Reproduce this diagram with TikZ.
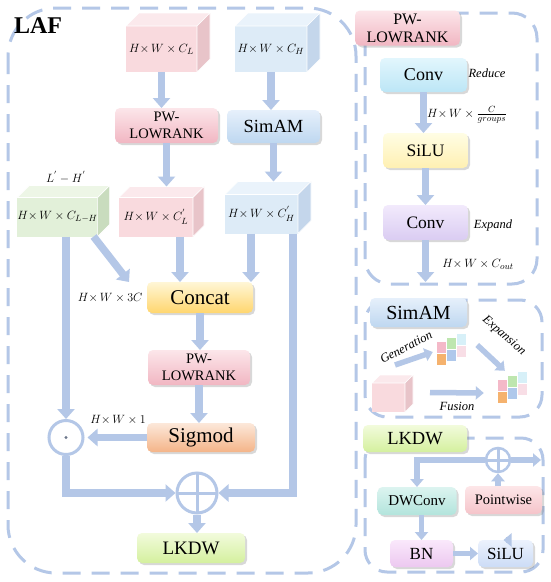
\documentclass[tikz,border=0pt]{standalone}
\usepackage{amsmath,amssymb}
\usepackage{xcolor}
\usepackage{fontspec}
\setmainfont{Liberation Serif}
\usetikzlibrary{arrows.meta,shadows,calc}

\definecolor{flowblue}{RGB}{180,199,231}
\definecolor{pinkA}{RGB}{252,230,234}
\definecolor{pinkB}{RGB}{241,182,194}
\definecolor{blueA}{RGB}{230,240,251}
\definecolor{blueB}{RGB}{190,215,240}
\definecolor{yellowA}{RGB}{255,246,214}
\definecolor{yellowB}{RGB}{255,214,110}
\definecolor{peachA}{RGB}{252,232,218}
\definecolor{peachB}{RGB}{244,180,136}
\definecolor{greenA}{RGB}{242,251,220}
\definecolor{greenB}{RGB}{212,240,158}
\definecolor{cyanA}{RGB}{226,246,253}
\definecolor{cyanB}{RGB}{188,230,246}
\definecolor{lemonA}{RGB}{255,253,228}
\definecolor{lemonB}{RGB}{255,240,178}
\definecolor{lilacA}{RGB}{242,234,252}
\definecolor{lilacB}{RGB}{218,204,242}
\definecolor{tealA}{RGB}{220,244,240}
\definecolor{tealB}{RGB}{178,228,220}
\definecolor{roseA}{RGB}{253,230,232}
\definecolor{roseB}{RGB}{245,196,202}
\definecolor{orchidA}{RGB}{250,232,251}
\definecolor{orchidB}{RGB}{236,200,240}
\definecolor{skyA}{RGB}{236,242,253}
\definecolor{skyB}{RGB}{204,220,246}
\definecolor{cpinkF}{RGB}{249,218,222}
\definecolor{cpinkT}{RGB}{251,233,236}
\definecolor{cpinkS}{RGB}{232,196,201}
\definecolor{cblueF}{RGB}{221,235,247}
\definecolor{cblueT}{RGB}{234,243,251}
\definecolor{cblueS}{RGB}{196,214,235}
\definecolor{cgreenF}{RGB}{226,240,217}
\definecolor{cgreenT}{RGB}{237,246,230}
\definecolor{cgreenS}{RGB}{201,220,190}
\definecolor{gpink}{RGB}{244,185,200}
\definecolor{ggreen}{RGB}{190,230,175}
\definecolor{gcyan}{RGB}{215,240,248}
\definecolor{gorange}{RGB}{245,178,110}
\definecolor{gblue}{RGB}{175,200,235}
\definecolor{gpinkl}{RGB}{248,222,230}

\newcommand{\cubefaces}[4]{%
    \fill[#3,draw=white,line width=0.6pt] (#1.north west) -- ([shift={(#2,-#2)}]#1.north west) -- ([shift={(#2,-#2)}]#1.north east) -- (#1.north east) -- cycle;
    \fill[#4,draw=white,line width=0.6pt] (#1.north east) -- ([shift={(#2,-#2)}]#1.north east) -- ([shift={(#2,-#2)}]#1.south east) -- (#1.south east) -- cycle;
    \coordinate (#1-back) at ([shift={(#2,-#2)}]#1.north);
}
\newcommand{\weightgrid}[1]{%
    \foreach \gx/\gy/\gc in {0/0/gpink,1/0/ggreen,2/0/gcyan,0/1/gorange,1/1/gblue,2/1/gpinkl}
        \fill[\gc] ([shift={(\gx*10-15,\gy*12-\gx*4-10)}]#1.center) rectangle ++(9,11);
}

\begin{document}
\begin{tikzpicture}[x=1pt,y=-1pt,
    flow/.style={draw=flowblue,line width=7.5pt,-{Triangle[width=17pt,length=10pt]}},
    flowthin/.style={draw=flowblue,line width=5.5pt,-{Triangle[width=13pt,length=8pt]}},
    frame/.style={draw=flowblue,line width=3pt,dash pattern=on 18pt off 11pt},
    box/.style={rounded corners=5pt,inner sep=0pt,outer sep=0pt,align=center,
        drop shadow={opacity=0.3,shadow xshift=2pt,shadow yshift=-2pt}},
    pinkbox/.style={box,top color=pinkA,bottom color=pinkB},
    bluebox/.style={box,top color=blueA,bottom color=blueB},
    yellowbox/.style={box,top color=yellowA,bottom color=yellowB},
    peachbox/.style={box,top color=peachA,bottom color=peachB},
    greenbox/.style={box,top color=greenA,bottom color=greenB},
    cube/.style={inner sep=0pt,outer sep=0pt,font=\fontsize{12.5}{14}\selectfont},
    mathlbl/.style={font=\fontsize{12.5}{14}\selectfont},
    note/.style={font=\fontsize{12.5}{14}\selectfont\itshape},
    plusnode/.style={circle,draw=flowblue,line width=3pt,fill=white,inner sep=0pt,
        path picture={\draw[flowblue,line width=3pt] (path picture bounding box.north) -- (path picture bounding box.south) (path picture bounding box.west) -- (path picture bounding box.east);}},
    dotnode/.style={circle,draw=flowblue,line width=3pt,fill=white,inner sep=0pt,
        path picture={\fill[flowblue!60!black] (path picture bounding box.center) circle (1.6pt);}}]
    \useasboundingbox (0,0) rectangle (550,582);
    \fill[white] (0,0) rectangle (550,582);

    \draw[frame,rounded corners=48] (8,8) rectangle (356,573);
    \draw[frame,rounded corners=25] (365,13) rectangle (537,284);
    \draw[frame,rounded corners=22] (365,300) rectangle (542,417);
    \draw[frame,rounded corners=22] (365,438) rectangle (543,572);

    \node[font=\fontsize{24}{26}\selectfont\bfseries] (laf) at (38,26) {LAF};

    \node[cube,fill=cpinkF,minimum width=71pt,minimum height=46pt] (cL) at (161.5,49) {$H{\times}\,W\times C_L$};
    \cubefaces{cL}{13}{cpinkT}{cpinkS}
    \node[cube,fill=cblueF,minimum width=72pt,minimum height=46pt] (cH) at (271,49) {$H{\times}\,W\times C_H$};
    \cubefaces{cH}{13}{cblueT}{cblueS}

    \node[pinkbox,minimum width=103pt,minimum height=35pt,font=\fontsize{14.5}{17}\selectfont] (pw1) at (166.5,125.5) {PW-\\LOWRANK};
    \node[bluebox,minimum width=93pt,minimum height=33pt,font=\fontsize{18.5}{20}\selectfont] (sim) at (273.5,126.5) {SimAM};

    \node[cube,fill=cgreenF,minimum width=79pt,minimum height=39pt] (cLH) at (57.5,217) {$H{\times}\,W\times C_{L-H}$};
    \cubefaces{cLH}{12}{cgreenT}{cgreenS}
    \node[cube,fill=cpinkF,minimum width=74pt,minimum height=39pt] (cL2) at (156,217) {$H{\times}\,W\times C_L^{'}$};
    \cubefaces{cL2}{11}{cpinkT}{cpinkS}
    \node[cube,fill=cblueF,minimum width=73pt,minimum height=39pt] (cH2) at (261.5,214) {$H{\times}\,W\times C_H^{'}$};
    \cubefaces{cH2}{13}{cblueT}{cblueS}
    \node[mathlbl] (lblLH) at (66,177) {$L^{'}-H^{'}$};

    \node[yellowbox,minimum width=106pt,minimum height=31pt,font=\fontsize{21}{23}\selectfont] (concat) at (200,297.5) {Concat};
    \node[mathlbl,anchor=east] (lbl3c) at ([xshift=-1pt]concat.west) {$H{\times}\,W\times 3C$};
    \node[pinkbox,minimum width=102pt,minimum height=35pt,font=\fontsize{14.5}{17}\selectfont] (pw2) at (199,367.5) {PW-\\LOWRANK};
    \node[peachbox,minimum width=108pt,minimum height=29pt,font=\fontsize{21}{23}\selectfont] (sig) at (201,437.5) {Sigmod};
    \node[mathlbl] (lbl1) at (118,420) {$H{\times}\,W\times 1$};
    \node[dotnode,minimum size=34pt] (odot) at (66,437.5) {};
    \node[plusnode,minimum size=40pt] (plus) at (197,493) {};
    \node[greenbox,minimum width=108pt,minimum height=30pt,font=\fontsize{19}{21}\selectfont] (lkdw) at (191,548) {LKDW};

    \draw[flow] (cL.south) -- (cL.south |- pw1.north);
    \draw[flow] (cH.south) -- (cH.south |- sim.north);
    \draw[flow] (pw1.south) -- (pw1.south |- cL2-back);
    \draw[flow] (sim.south) -- (sim.south |- cH2-back);
    \draw[flow] ([xshift=-4pt]cLH.south east) -- ([xshift=-18pt]concat.north west);
    \draw[flow] ([xshift=24pt]cL2.south) -- ([xshift=24pt]cL2.south |- concat.north);
    \draw[flow] ([xshift=-2pt]concat.north east |- cH2.south) -- ([xshift=-2pt]concat.north east);
    \draw[flow] (concat.south) -- (concat.south |- pw2.north);
    \draw[flow] (pw2.south) -- (pw2.south |- sig.north);
    \draw[flow,shorten >=3pt] (sig.west) -- (odot.east);
    \draw[flow] (odot.north |- cLH.south) -- (odot.north);
    \draw[flow] (odot.south) -- (odot.south |- plus.west) -- (plus.west);
    \draw[flow] ([xshift=-5pt]cH2.south east) -- ([xshift=-5pt]cH2.south east |- plus.east) -- (plus.east);
    \draw[flow] (plus.south) -- (plus.south |- lkdw.north);

    \node[pinkbox,minimum width=105pt,minimum height=35pt,font=\fontsize{16}{18}\selectfont] (pwT) at (407.5,28) {PW-\\LOWRANK};
    \node[box,top color=cyanA,bottom color=cyanB,minimum width=87pt,minimum height=34pt,font=\fontsize{18}{20}\selectfont] (conv1) at (423.5,75) {Conv};
    \node[box,top color=lemonA,bottom color=lemonB,minimum width=85pt,minimum height=35pt,font=\fontsize{17.5}{19}\selectfont] (silu1) at (425.5,150.5) {SiLU};
    \node[box,top color=lilacA,bottom color=lilacB,minimum width=85pt,minimum height=35pt,font=\fontsize{17.5}{19}\selectfont] (conv2) at (425.5,222.5) {Conv};
    \node[note] (reduce) at (487,73) {Reduce};
    \node[note] (expand) at (493,225) {Expand};
    \node[mathlbl] (lblgrp) at (467,115) {$H{\times}\,W\times\frac{C}{groups}$};
    \node[mathlbl] (lblout) at (478,264) {$H{\times}\,W\times C_{out}$};
    \coordinate (pw-out) at (427,282);
    \draw[flow] (conv1.south) -- (conv1.south |- silu1.north);
    \draw[flow] (silu1.south) -- (silu1.south |- conv2.north);
    \draw[flow] (conv2.south) -- (conv2.south |- pw-out);

    \node[bluebox,minimum width=97pt,minimum height=29pt,font=\fontsize{20}{22}\selectfont] (simT) at (418.5,312.5) {SimAM};
    \node[cube,fill=cpinkF,minimum width=33pt,minimum height=29pt] (sc) at (388.5,397.5) {};
    \cubefaces{sc}{8}{cpinkT}{cpinkS}
    \node[inner sep=0pt,minimum width=30pt,minimum height=34pt] (wg1) at (452,352) {};
    \weightgrid{wg1}
    \node[inner sep=0pt,minimum width=30pt,minimum height=34pt] (wg2) at (513,390) {};
    \weightgrid{wg2}
    \draw[flowthin] ([shift={(-10,-18)}]sc.north east) -- ([xshift=-4pt]wg1.west);
    \draw[flowthin] ([shift={(10,-7)}]wg1.east) -- ([shift={(7,-2)}]wg2.north west);
    \draw[flowthin] ([shift={(25,-5)}]sc.east) -- ([shift={(-14,3)}]wg2.west);
    \node[note,rotate=28] (gen) at (406,347) {Generation};
    \node[note,rotate=-41] (expn) at (504,336) {Expansion};
    \node[note] (fus) at (457,406) {Fusion};

    \node[greenbox,minimum width=104pt,minimum height=27pt,font=\fontsize{18.5}{20}\selectfont] (lkT) at (415,438.5) {LKDW};
    \node[plusnode,minimum size=24pt,line width=2.5pt] (lkplus) at (498,460) {};
    \node[box,top color=tealA,bottom color=tealB,minimum width=79pt,minimum height=28pt,font=\fontsize{15}{17}\selectfont] (dw) at (417,501) {DWConv};
    \node[box,top color=roseA,bottom color=roseB,minimum width=77pt,minimum height=28pt,font=\fontsize{14.5}{16}\selectfont] (pwise) at (503.5,500) {Pointwise};
    \node[box,top color=orchidA,bottom color=orchidB,minimum width=63pt,minimum height=27pt,font=\fontsize{17}{19}\selectfont] (bn) at (421.5,553.5) {BN};
    \node[box,top color=skyA,bottom color=skyB,minimum width=55pt,minimum height=27pt,font=\fontsize{17}{19}\selectfont] (silu2) at (505.5,553.5) {SiLU};
    \coordinate (lk-in) at (417,460);
    \coordinate (lk-out) at (541,460);
    \draw[flowthin] (lkplus.west) -- (lk-in) -- (dw.north);
    \draw[flowthin] (lkplus.east) -- (lk-out);
    \draw[flowthin] (dw.south -| bn.north) -- (bn.north);
    \draw[flowthin] (bn.east) -- (silu2.west);
    \draw[flowthin] (silu2.north) -- (silu2.north -| pwise.south);
    \draw[flowthin] (pwise.north -| lkplus.south) -- (lkplus.south);
\end{tikzpicture}
\end{document}
